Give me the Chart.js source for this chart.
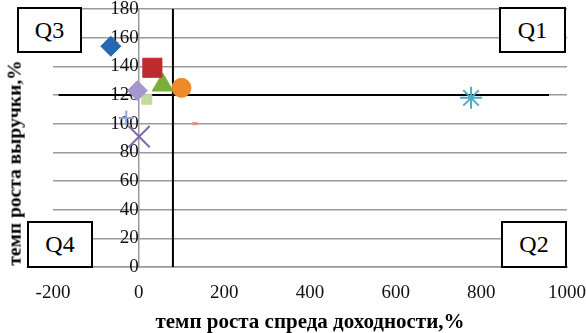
<!DOCTYPE html>
<html>
<head>
<meta charset="utf-8">
<script src="https://cdn.jsdelivr.net/npm/chart.js@4/dist/chart.umd.min.js"></script>
<style>
  html, body { margin: 0; padding: 0; background: #fff; }
  #wrap { position: relative; width: 586px; height: 333px; overflow: hidden; }
  canvas { position: absolute; left: 0; top: -8px; }
  .qbox { position: absolute; box-sizing: border-box; border: 2px solid #000; background: #fff;
          font-family: "Liberation Serif", serif; font-size: 24px; color: #000;
          display: flex; align-items: center; justify-content: center; }
  #ytitle { position: absolute; font-family: "Liberation Serif", serif; font-weight: bold; font-size: 19.5px;
            color: #000; white-space: nowrap; transform-origin: center center; }
</style>
</head>
<body>
<div id="wrap">
  <canvas id="c" width="586" height="341"></canvas>
  <div class="qbox" style="left:17px;top:7px;width:65px;height:46px;">Q3</div>
  <div class="qbox" style="left:499px;top:7px;width:67px;height:46px;">Q1</div>
  <div class="qbox" style="left:27px;top:221px;width:66px;height:47px;">Q4</div>
  <div class="qbox" style="left:501px;top:221px;width:66px;height:47px;">Q2</div>
  <div id="ytitle">темп роста выручки,%</div>
</div>
<script>
// Data
const seriesNames = ["S1", "S2", "S3", "S4", "S5", "S6", "S7", "S8", "S9", "S10"];
const spreadGrowth = [-65, 32, 56, 100, -3, 19, -29, 1, 125, 776];
const revenueGrowth = [154, 139, 127, 125, 123, 117, 104, 91, 100, 118];
const markerShapes = ["rectRot", "rect", "triangle", "circle", "rectRot", "rect", "cross", "crossRot", "dash", "star"];
const markerColors = ["#2666B2", "#BE2B2F", "#7AAE3A", "#EE8A2A", "#A498CC", "#C3D9A0", "#8BA3D6", "#7F6AAE", "#E58A8A", "#4BACC6"];
const markerSizes = [10, 13.5, 12, 9.5, 10, 7, 7.5, 15, 5.5, 11];
const markerLines = [1, 1, 1, 1, 1, 1, 2, 2, 3, 2];
// Quadrant divider lines
const vLineX = [80, 80];
const vLineY = [0, 180];
const hLineX = [-187, 958];
const hLineY = [120, 120];
// Axis ticks
const xTicks = [-200, 0, 200, 400, 600, 800, 1000];
const yTicks = [0, 20, 40, 60, 80, 100, 120, 140, 160, 180];

const datasets = [];
seriesNames.forEach((n, i) => {
  datasets.push({
    label: n,
    data: [{ x: spreadGrowth[i], y: revenueGrowth[i] }],
    pointStyle: markerShapes[i],
    pointRadius: markerSizes[i],
    pointHoverRadius: markerSizes[i],
    backgroundColor: markerColors[i],
    borderColor: markerColors[i],
    pointBorderWidth: markerLines[i],
    showLine: false,
    order: i === 5 ? 20 : i
  });
});
datasets.push({
  label: "v", data: vLineX.map((x, i) => ({ x, y: vLineY[i] })), showLine: true,
  borderColor: "#000", borderWidth: 2, pointRadius: 0, order: 30
});
datasets.push({
  label: "h", data: hLineX.map((x, i) => ({ x, y: hLineY[i] })), showLine: true,
  borderColor: "#000", borderWidth: 2, pointRadius: 0, order: 30
});

const zeroPad = (s) => { s.paddingTop = 0; s.paddingBottom = 0; s.paddingLeft = 0; s.paddingRight = 0; };
const tickFont = { family: "'Liberation Serif', serif", size: 19 };
new Chart(document.getElementById("c"), {
  type: "scatter",
  data: { datasets },
  options: {
    responsive: false,
    animation: false,
    events: [],
    layout: { padding: { left: 53, right: 19, top: 8, bottom: 0 } },
    plugins: { legend: { display: false }, tooltip: { enabled: false } },
    scales: {
      x: {
        type: "linear", min: -200, max: 1000,
        afterBuildTicks: (s) => { s.ticks = xTicks.map(v => ({ value: v })); },
        afterFit: (s) => { zeroPad(s); s.height = 66; },
        ticks: { font: tickFont, color: "#111", padding: 15, maxRotation: 0, autoSkip: false,
                 callback: (v) => String(v) },
        grid: { display: false, drawTicks: false },
        border: { display: true, color: "#9a9a9a", width: 1.5 },
        title: { display: true, text: "темп роста спреда доходности,%", color: "#000",
                 font: { family: "'Liberation Serif', serif", size: 21, weight: "bold" }, padding: { top: 4, bottom: -2 } }
      },
      y: {
        type: "linear", min: 0, max: 180, position: { x: 0 },
        afterBuildTicks: (s) => { s.ticks = yTicks.map(v => ({ value: v })); },
        afterFit: (s) => { zeroPad(s); },
        ticks: { font: tickFont, color: "#111", padding: 19, autoSkip: false, callback: (v) => String(v) },
        grid: { color: "#9a9a9a", lineWidth: 1.5, drawTicks: false },
        border: { display: true, color: "#9a9a9a", width: 1.5 }
      }
    }
  }
});
const yt = document.getElementById("ytitle");
const w = yt.offsetWidth, h = yt.offsetHeight;
yt.style.left = (14 - w / 2) + "px";
yt.style.top = (163 - h / 2) + "px";
yt.style.transform = "rotate(-90deg)";
</script>
</body>
</html>
